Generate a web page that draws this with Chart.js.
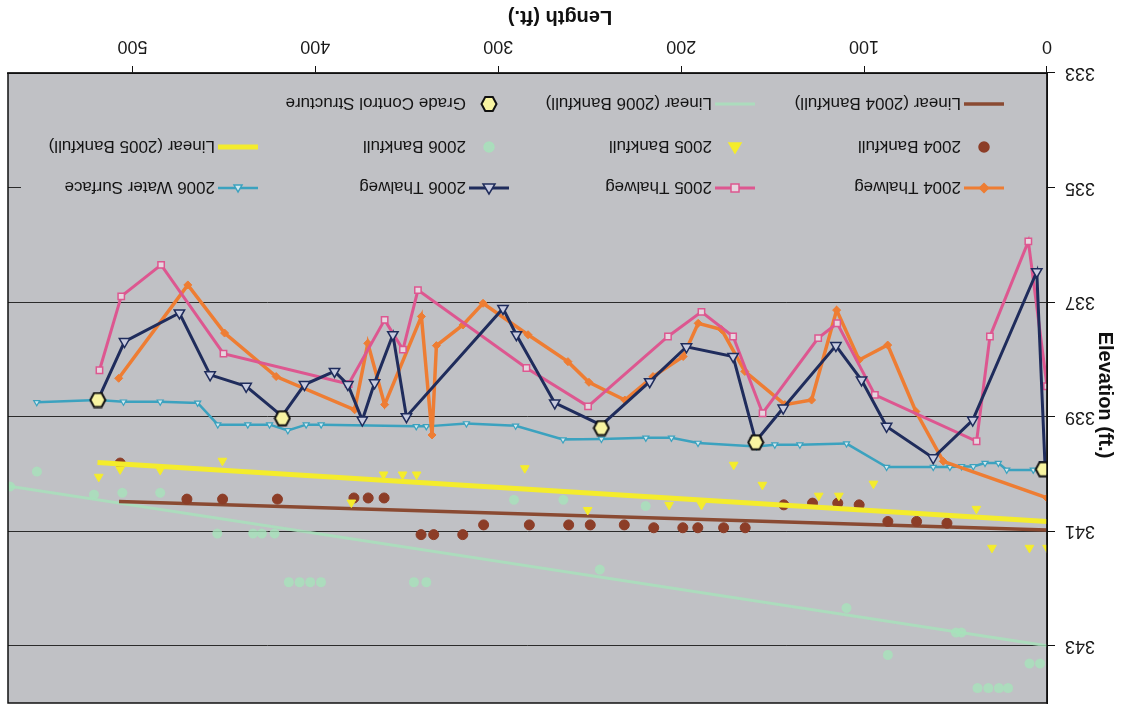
<!DOCTYPE html>
<html lang="en">
<head>
<meta charset="utf-8">
<title>Profil en long</title>
<script src="https://cdn.jsdelivr.net/npm/chart.js@4/dist/chart.umd.min.js"></script>
<style>
    html, body { margin: 0; padding: 0; background: #fff; }
    /* Le graphique est présenté retourné (tête en bas) */
    #wrap { width: 1122px; height: 706px; transform: rotate(180deg); }
</style>
</head>
<body>
<div id="wrap"><canvas id="profile-chart" width="1122" height="706"></canvas></div>
<script>
// ======== DONNÉES (distance en ft, élévation en ft) ========
const xTicks = [0, 100, 200, 300, 400, 500];
const yTicks = [333, 335, 337, 339, 341, 343];

const thalweg2004X = [0, 56.7, 71.7, 87.1, 102.7, 115.0, 128.7, 143.3, 165.2, 177.9, 190.7, 198.9, 215.4, 230.8, 250.4, 261.9, 283.7, 308.3, 319.3, 333.8, 336.2, 342.0, 362.1, 371.3, 378.5, 421.4, 449.6, 469.7, 507.5];
const thalweg2004Y = [340.42, 339.78, 338.91, 337.75, 338.01, 337.14, 338.71, 338.79, 338.21, 337.48, 337.37, 337.95, 338.30, 338.71, 338.40, 338.04, 337.57, 337.02, 337.40, 337.76, 339.32, 337.25, 338.79, 337.72, 338.88, 338.30, 337.54, 336.70, 338.33];

const thalweg2005X = [0, 10.2, 31.2, 38.5, 94.1, 114.7, 125.1, 155.5, 171.6, 188.9, 207.2, 250.9, 284.6, 343.9, 352.1, 362.1, 381.8, 450.2, 484.3, 506.1, 518.0];
const thalweg2005Y = [338.47, 335.94, 337.60, 339.43, 338.62, 337.37, 337.63, 338.94, 337.60, 337.17, 337.60, 338.82, 338.15, 336.79, 337.83, 337.31, 338.43, 337.90, 336.35, 336.90, 338.19];

const thalweg2006X = [1.1, 5.6, 40.6, 62.2, 87.7, 101.4, 115.4, 144.2, 159.2, 171.6, 197.1, 217.2, 243.6, 269.1, 290.1, 297.4, 350.2, 357.6, 367.6, 374.3, 382.2, 389.5, 405.9, 418.2, 437.8, 457.5, 474.3, 504.3, 518.9];
const thalweg2006Y = [339.84, 336.47, 339.06, 339.72, 339.17, 338.36, 337.76, 338.85, 339.43, 337.95, 337.78, 338.39, 339.15, 338.76, 337.57, 337.11, 339.00, 337.57, 338.41, 339.06, 338.44, 338.21, 338.44, 338.99, 338.47, 338.27, 337.19, 337.69, 338.71];

const water2006X = [1.1, 7.5, 22.0, 26.6, 33.9, 40.3, 46.7, 53.1, 62.2, 87.7, 109.6, 135.1, 148.8, 158.8, 190.8, 205.3, 219.3, 243.6, 264.6, 290.5, 317.4, 339.3, 344.8, 396.8, 405.0, 415.0, 425.0, 436.9, 453.3, 464.3, 484.8, 504.9, 518.9, 552.3];
const water2006Y = [339.92, 339.93, 339.93, 339.81, 339.81, 339.87, 339.87, 339.88, 339.88, 339.88, 339.47, 339.49, 339.49, 339.52, 339.46, 339.37, 339.37, 339.39, 339.40, 339.16, 339.12, 339.17, 339.17, 339.14, 339.14, 339.24, 339.14, 339.14, 339.14, 338.76, 338.74, 338.74, 338.71, 338.75];

const bankfull2004X = [54.7, 71.3, 87.0, 102.7, 114.4, 128.2, 143.9, 165.0, 176.8, 190.9, 199.1, 215.0, 231.1, 249.7, 261.5, 283.0, 308.0, 319.4, 335.3, 342.2, 362.4, 371.1, 378.9, 420.7, 450.7, 470.2, 506.7];
const bankfull2004Y = [340.86, 340.83, 340.83, 340.54, 340.51, 340.51, 340.54, 340.94, 340.94, 340.94, 340.94, 340.94, 340.89, 340.89, 340.89, 340.89, 340.89, 341.06, 341.06, 341.06, 340.42, 340.42, 340.42, 340.44, 340.44, 340.44, 339.81];

const bankfull2005X = [0, 9.6, 30.1, 38.6, 94.9, 113.8, 124.8, 155.6, 171.3, 188.9, 206.6, 251.1, 285.5, 344.6, 352.3, 362.7, 380.3, 450.8, 484.8, 506.7, 518.4];
const bankfull2005Y = [341.29, 341.29, 341.29, 340.61, 340.17, 340.38, 340.38, 340.19, 339.84, 340.54, 340.54, 340.63, 339.90, 340.01, 340.01, 340.01, 340.50, 339.77, 339.93, 339.92, 340.05];

const bankfull2006X = [3.8, 9.6, 21.3, 26.3, 32.1, 38.0, 46.8, 49.8, 87.0, 109.6, 219.4, 244.5, 264.4, 291.4, 339.3, 346.1, 396.9, 402.8, 408.6, 414.5, 422.3, 429.2, 434.0, 453.6, 484.8, 505.5, 521.0, 552.2, 566.9];
const bankfull2006Y = [343.31, 343.31, 343.74, 343.74, 343.74, 343.74, 342.77, 342.77, 343.16, 342.34, 340.56, 341.67, 340.45, 340.45, 341.89, 341.89, 341.89, 341.89, 341.89, 341.89, 341.04, 341.04, 341.04, 341.04, 340.33, 340.33, 340.36, 339.96, 340.22];

// Droites de tendance (extrémités)
const linear2004X = [0, 507.3];
const linear2004Y = [340.98, 340.48];
const linear2005X = [0, 519.1];
const linear2005Y = [340.83, 339.80];
const linear2006X = [0, 568.4];
const linear2006Y = [343.00, 340.21];

const gradeControlX = [2.0, 159.2, 243.6, 418.0, 518.9];
const gradeControlY = [339.92, 339.45, 339.20, 339.03, 338.71];

function toPoints(xs, ys) {
    return xs.map((x, i) => ({ x: x, y: ys[i] }));
}

// Hexagone jaune pour les seuils (pas de pointStyle natif)
function makeHexagon(w, h) {
    const c = document.createElement('canvas');
    c.width = w;
    c.height = h;
    const g = c.getContext('2d');
    drawHexagon(g, w / 2, h / 2, w / 2 - 1.5, h / 2 - 1.5);
    return c;
}

function drawHexagon(g, cx, cy, rx, ry) {
    g.beginPath();
    g.moveTo(cx - rx, cy);
    g.lineTo(cx - rx / 2, cy - ry);
    g.lineTo(cx + rx / 2, cy - ry);
    g.lineTo(cx + rx, cy);
    g.lineTo(cx + rx / 2, cy + ry);
    g.lineTo(cx - rx / 2, cy + ry);
    g.closePath();
    g.fillStyle = '#f8f4a2';
    g.fill();
    g.lineWidth = 2;
    g.strokeStyle = '#111';
    g.stroke();
}

const COLORS = {
    plot: '#c0c1c5',
    orange: '#ee7d33',
    pink: '#dd5790',
    navy: '#1f2c5c',
    teal: '#3ba2bf',
    yellow: '#f4ec2c',
    brown: '#8c3d27',
    brownLine: '#8a4a32',
    green: 'rgba(166,226,186,0.8)'
};

document.addEventListener('DOMContentLoaded', () => {

    // ======== 1. FOND DE LA ZONE DE TRACÉ ========
    const plotBackground = {
        id: 'plotBackground',
        beforeDraw(chart) {
            const { ctx, chartArea: a } = chart;
            ctx.save();
            ctx.fillStyle = COLORS.plot;
            ctx.fillRect(a.left, a.top, a.right - a.left, a.bottom - a.top);
            ctx.restore();
        },
        afterDraw(chart) {
            const { ctx, chartArea: a } = chart;
            ctx.save();
            ctx.strokeStyle = '#111';
            ctx.lineWidth = 1.5;
            ctx.strokeRect(a.left, a.top, a.right - a.left, a.bottom - a.top);
            ctx.restore();
        }
    };

    // ======== 2. LÉGENDE DANS LE CADRE + TITRES DES AXES ========
    const legendRows = [518, 559, 602];
    const legendCols = [118, 367, 613, 864];
    const legendItems = [
        { col: 0, row: 0, text: '2004 Thalweg', line: COLORS.orange, lw: 3, marker: 'diamond', fill: COLORS.orange, stroke: COLORS.orange },
        { col: 1, row: 0, text: '2005 Thalweg', line: COLORS.pink, lw: 3, marker: 'square', fill: '#e6d6df', stroke: COLORS.pink },
        { col: 2, row: 0, text: '2006 Thalweg', line: COLORS.navy, lw: 3, marker: 'triangle', fill: '#c8cce0', stroke: COLORS.navy },
        { col: 3, row: 0, text: '2006 Water Surface', line: COLORS.teal, lw: 2.5, marker: 'smallTriangle', fill: '#d2e8ee', stroke: COLORS.teal },
        { col: 0, row: 1, text: '2004 Bankfull', marker: 'circle', fill: COLORS.brown, stroke: COLORS.brown },
        { col: 1, row: 1, text: '2005 Bankfull', marker: 'triangle', fill: COLORS.yellow, stroke: COLORS.yellow },
        { col: 2, row: 1, text: '2006 Bankfull', marker: 'circle', fill: COLORS.green, stroke: COLORS.green },
        { col: 3, row: 1, text: 'Linear (2005 Bankfull)', line: COLORS.yellow, lw: 5 },
        { col: 0, row: 2, text: 'Linear (2004 Bankfull)', line: COLORS.brownLine, lw: 3.5 },
        { col: 1, row: 2, text: 'Linear (2006 Bankfull)', line: COLORS.green, lw: 3 },
        { col: 2, row: 2, text: 'Grade Control Structure', marker: 'hexagon' }
    ];

    function drawMarker(ctx, item, x, y) {
        ctx.save();
        ctx.fillStyle = item.fill;
        ctx.strokeStyle = item.stroke;
        ctx.lineWidth = 1.5;
        ctx.beginPath();
        if (item.marker === 'circle') {
            ctx.arc(x, y, 5, 0, Math.PI * 2);
        } else if (item.marker === 'diamond') {
            ctx.moveTo(x, y - 4.5); ctx.lineTo(x + 4.5, y); ctx.lineTo(x, y + 4.5); ctx.lineTo(x - 4.5, y);
        } else if (item.marker === 'square') {
            ctx.rect(x - 4, y - 4, 8, 8);
        } else if (item.marker === 'triangle') {
            ctx.moveTo(x, y - 6); ctx.lineTo(x + 6, y + 4); ctx.lineTo(x - 6, y + 4);
        } else if (item.marker === 'smallTriangle') {
            ctx.moveTo(x, y - 4); ctx.lineTo(x + 4, y + 3); ctx.lineTo(x - 4, y + 3);
        } else if (item.marker === 'hexagon') {
            drawHexagon(ctx, x, y, 7.5, 7);
            ctx.restore();
            return;
        }
        ctx.closePath();
        ctx.fill();
        ctx.stroke();
        ctx.restore();
    }

    const legendAndTitles = {
        id: 'legendAndTitles',
        afterDraw(chart) {
            const { ctx, chartArea: a } = chart;
            ctx.save();
            // boîte de légende : masque la ligne de grille 335
            ctx.fillStyle = COLORS.plot;
            ctx.fillRect(a.left + 1, 496, 1100 - a.left, a.bottom - 497);

            ctx.font = '17px "Liberation Sans", Arial, sans-serif';
            ctx.textBaseline = 'middle';
            ctx.textAlign = 'left';
            legendItems.forEach(item => {
                const x0 = legendCols[item.col];
                const y = legendRows[item.row];
                if (item.line) {
                    ctx.strokeStyle = item.line;
                    ctx.lineWidth = item.lw;
                    ctx.beginPath();
                    ctx.moveTo(x0, y);
                    ctx.lineTo(x0 + 40, y);
                    ctx.stroke();
                }
                if (item.marker) drawMarker(ctx, item, x0 + 20, y);
                ctx.fillStyle = '#141414';
                ctx.fillText(item.text, x0 + 43, y + 1);
            });

            // titres des axes
            ctx.font = 'bold 20px "Liberation Sans", Arial, sans-serif';
            ctx.fillStyle = '#111';
            ctx.textAlign = 'center';
            ctx.fillText('Length (ft.)', 562, 689);
            ctx.translate(17, 311);
            ctx.rotate(-Math.PI / 2);
            ctx.fillText('Elevation (ft.)', 0, 0);
            ctx.restore();
        }
    };

    // ======== 3. SÉRIES ========
    const hexagon = makeHexagon(18, 17);

    const datasets = [
        {
            label: 'Grade Control Structure', order: 0,
            data: toPoints(gradeControlX, gradeControlY),
            showLine: false, pointStyle: hexagon
        },
        {
            label: '2006 Thalweg', order: 1,
            data: toPoints(thalweg2006X, thalweg2006Y),
            showLine: true, borderColor: COLORS.navy, borderWidth: 3,
            pointStyle: 'triangle', pointRadius: 6, pointBorderWidth: 1.5,
            pointBackgroundColor: '#c8cce0', pointBorderColor: COLORS.navy
        },
        {
            label: '2005 Thalweg', order: 2,
            data: toPoints(thalweg2005X, thalweg2005Y),
            showLine: true, borderColor: COLORS.pink, borderWidth: 3,
            pointStyle: 'rect', pointRadius: 4.5, pointBorderWidth: 1.5,
            pointBackgroundColor: '#e6d6df', pointBorderColor: COLORS.pink
        },
        {
            label: '2004 Thalweg', order: 3,
            data: toPoints(thalweg2004X, thalweg2004Y),
            showLine: true, borderColor: COLORS.orange, borderWidth: 3.5,
            pointStyle: 'rectRot', pointRadius: 4, pointBorderWidth: 1,
            pointBackgroundColor: COLORS.orange, pointBorderColor: COLORS.orange
        },
        {
            label: '2006 Water Surface', order: 4,
            data: toPoints(water2006X, water2006Y),
            showLine: true, borderColor: COLORS.teal, borderWidth: 2.5,
            pointStyle: 'triangle', pointRadius: 3.5, pointBorderWidth: 1.2,
            pointBackgroundColor: '#d2e8ee', pointBorderColor: COLORS.teal
        },
        {
            label: '2005 Bankfull', order: 5,
            data: toPoints(bankfull2005X, bankfull2005Y),
            showLine: false, pointStyle: 'triangle', pointRadius: 5,
            pointBackgroundColor: COLORS.yellow, pointBorderColor: COLORS.yellow
        },
        {
            label: 'Linear (2005 Bankfull)', order: 6,
            data: toPoints(linear2005X, linear2005Y),
            showLine: true, borderColor: COLORS.yellow, borderWidth: 5, pointRadius: 0
        },
        {
            label: '2004 Bankfull', order: 7,
            data: toPoints(bankfull2004X, bankfull2004Y),
            showLine: false, pointStyle: 'circle', pointRadius: 5,
            pointBackgroundColor: COLORS.brown, pointBorderColor: COLORS.brown
        },
        {
            label: 'Linear (2004 Bankfull)', order: 8,
            data: toPoints(linear2004X, linear2004Y),
            showLine: true, borderColor: COLORS.brownLine, borderWidth: 3.5, pointRadius: 0
        },
        {
            label: '2006 Bankfull', order: 9,
            data: toPoints(bankfull2006X, bankfull2006Y),
            showLine: false, pointStyle: 'circle', pointRadius: 5,
            pointBackgroundColor: COLORS.green, pointBorderColor: 'rgba(0,0,0,0)'
        },
        {
            label: 'Linear (2006 Bankfull)', order: 10,
            data: toPoints(linear2006X, linear2006Y),
            showLine: true, borderColor: COLORS.green, borderWidth: 3, pointRadius: 0
        }
    ];

    // ======== 4. GRAPHIQUE ========
    const ctx = document.getElementById('profile-chart');
    new Chart(ctx, {
        type: 'scatter',
        data: { datasets: datasets },
        options: {
            responsive: false,
            animation: false,
            devicePixelRatio: 1,
            // sans marge auto (rayon des points) : le cadre colle au haut du canvas
            layout: { autoPadding: false, padding: { top: 3, right: 8, left: 0, bottom: 0 } },
            elements: { line: { tension: 0 } },
            plugins: {
                legend: { display: false },
                tooltip: { enabled: false }
            },
            scales: {
                x: {
                    type: 'linear',
                    min: 0,
                    max: 568,
                    afterBuildTicks: axis => { axis.ticks = xTicks.map(v => ({ value: v })); },
                    afterFit: axis => {
                        axis.height = 73;
                        axis.paddingLeft = 0;
                        axis.paddingRight = 0;
                    },
                    grid: { drawOnChartArea: false, tickLength: 7, tickColor: '#111' },
                    border: { color: '#111', width: 1.5 },
                    ticks: {
                        color: '#1a1a1a',
                        padding: 9,
                        maxRotation: 0,
                        font: { family: '"Liberation Sans Narrow", "Arial Narrow", "Liberation Sans", sans-serif', size: 18 }
                    }
                },
                y: {
                    type: 'linear',
                    min: 333,
                    max: 344,
                    afterBuildTicks: axis => { axis.ticks = yTicks.map(v => ({ value: v })); },
                    afterFit: axis => {
                        axis.width = 75;
                        // la demi-hauteur des étiquettes ne doit pas décaler le cadre
                        axis.paddingTop = 0;
                        axis.paddingBottom = 0;
                    },
                    grid: {
                        color: c => (c.tick && c.tick.value === 333) ? 'rgba(0,0,0,0)' : '#2b2b2b',
                        lineWidth: 1,
                        tickLength: 8,
                        tickColor: '#111'
                    },
                    border: { color: '#111', width: 1.5 },
                    ticks: {
                        color: '#1a1a1a',
                        padding: 10,
                        font: { family: '"Liberation Sans", Arial, sans-serif', size: 18 }
                    }
                }
            }
        },
        plugins: [plotBackground, legendAndTitles]
    });

});
</script>
</body>
</html>
